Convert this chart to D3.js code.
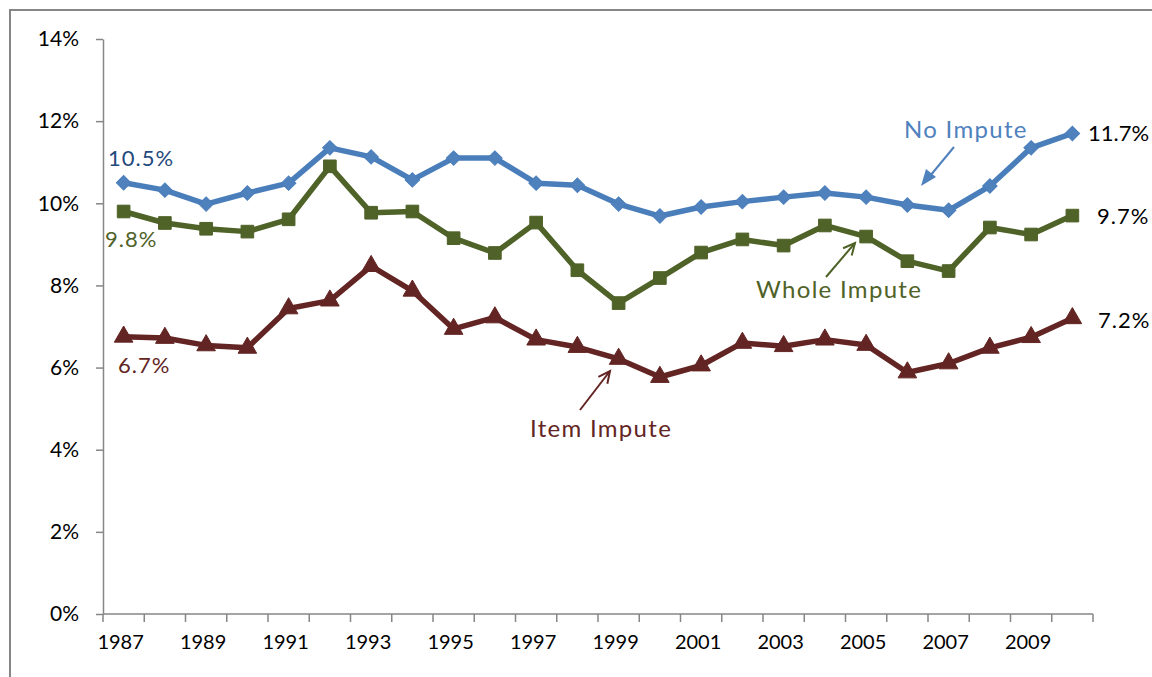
<!DOCTYPE html>
<html>
<head>
<meta charset="utf-8">
<script src="https://cdn.jsdelivr.net/npm/d3@7"></script>
<style>
  body { margin: 0; background: #fff; }
  svg { display: block; font-family: Lato, "Open Sans", sans-serif; }
</style>
</head>
<body>
<svg width="1152" height="677"></svg>
<script>
'use strict'

const years = d3.range(1987, 2011);
const yTicks = [0, 2, 4, 6, 8, 10, 12, 14];

// values (percent)
const noImpute = [10.5, 10.32, 9.98, 10.25, 10.49, 11.35, 11.13, 10.57, 11.1, 11.1, 10.49, 10.44,
  9.98, 9.69, 9.91, 10.04, 10.15, 10.25, 10.15, 9.96, 9.83, 10.42, 11.35, 11.7];
const wholeImpute = [9.8, 9.52, 9.38, 9.31, 9.61, 10.9, 9.77, 9.8, 9.15, 8.79, 9.53, 8.37,
  7.57, 8.18, 8.8, 9.12, 8.97, 9.46, 9.19, 8.59, 8.35, 9.41, 9.24, 9.7];
const itemImpute = [6.75, 6.72, 6.54, 6.48, 7.44, 7.63, 8.47, 7.87, 6.94, 7.22, 6.68, 6.5,
  6.21, 5.77, 6.05, 6.6, 6.52, 6.68, 6.55, 5.88, 6.1, 6.48, 6.74, 7.2];

const svg = d3.select('svg');
const plotLeft = 103, plotRight = 1093, plotTop = 39, plotBottom = 614;

// chart area border
svg.append('rect')
  .attr('x', 10).attr('y', 10)
  .attr('width', 1200).attr('height', 800)
  .attr('fill', 'none')
  .attr('stroke', '#868686')
  .attr('stroke-width', 2);

const x = d3.scaleBand().domain(years).range([plotLeft, plotRight]);
const y = d3.scaleLinear().domain([0, 14]).range([plotBottom, plotTop]);

// y axis
const yAxis = svg.append('g')
  .attr('transform', `translate(${plotLeft},0)`)
  .call(d3.axisLeft(y).tickValues(yTicks).tickFormat(d => d + '%').tickSize(7).tickSizeOuter(0).tickPadding(17));
yAxis.select('.domain').attr('stroke', '#868686').attr('stroke-width', 1.5);
yAxis.selectAll('line').attr('stroke', '#868686').attr('stroke-width', 1.5);
yAxis.selectAll('text').attr('font-size', 21).attr('fill', '#000').attr('font-family', 'Lato');

// x axis: category axis, ticks at boundaries, every other label
const xg = svg.append('g').attr('transform', `translate(0,${plotBottom})`);
xg.append('line')
  .attr('x1', plotLeft).attr('x2', x(years[years.length - 1]) + x.bandwidth())
  .attr('stroke', '#868686').attr('stroke-width', 1.5);
const bounds = years.map(d => x(d)).concat([x(years[years.length - 1]) + x.bandwidth()]);
xg.selectAll('line.tick')
  .data(bounds)
  .join('line')
  .attr('class', 'tick')
  .attr('x1', d => d).attr('x2', d => d)
  .attr('y1', 0).attr('y2', 8)
  .attr('stroke', '#868686').attr('stroke-width', 1.5);
xg.selectAll('text')
  .data(years.filter((d, i) => i % 2 === 0))
  .join('text')
  .attr('x', d => x(d) + x.bandwidth() / 2 - 3)
  .attr('y', 35)
  .attr('text-anchor', 'middle')
  .attr('font-size', 20)
  .attr('fill', '#000')
  .text(d => d);

const cx = d => x(d) + x.bandwidth() / 2;

const series = [
  { values: itemImpute, line: '#632523', fill: '#632523', shape: d3.symbolTriangle, size: 150, rot: 0 },
  { values: wholeImpute, line: '#4F6228', fill: '#4F6228', shape: d3.symbolSquare, size: 160, rot: 0 },
  { values: noImpute, line: '#4A7EBB', fill: '#4F81BD', shape: d3.symbolSquare, size: 105, rot: 45 }
];

const line = d3.line().x((d, i) => cx(years[i])).y(d => y(d));

series.forEach(s => {
  svg.append('path')
    .datum(s.values)
    .attr('d', line)
    .attr('fill', 'none')
    .attr('stroke', s.line)
    .attr('stroke-width', 5.5)
    .attr('stroke-linejoin', 'round');
  svg.append('g')
    .selectAll('path')
    .data(s.values)
    .join('path')
    .attr('transform', (d, i) => `translate(${cx(years[i])},${y(d)}) rotate(${s.rot})`)
    .attr('d', d3.symbol().type(s.shape).size(s.size))
    .attr('fill', s.fill)
    .attr('stroke', s.line)
    .attr('stroke-width', 1);
});

// data labels
const labels = [
  { t: '10.5%', x: 108, y: 166, c: '#1F497D', ls: 1 },
  { t: '9.8%', x: 105, y: 247, c: '#4F6228', ls: 1 },
  { t: '6.7%', x: 118, y: 373, c: '#632523', ls: 1 },
  { t: '11.7%', x: 1088, y: 141, c: '#000', ls: 0 },
  { t: '9.7%', x: 1097, y: 224, c: '#000', ls: 1 },
  { t: '7.2%', x: 1098, y: 328, c: '#000', ls: 1 }
];
svg.append('g').selectAll('text')
  .data(labels)
  .join('text')
  .attr('x', d => d.x).attr('y', d => d.y)
  .attr('font-size', 22)
  .attr('letter-spacing', d => d.ls)
  .attr('fill', d => d.c)
  .text(d => d.t);

// series annotations with arrows
const notes = [
  { t: 'No Impute', x: 904, y: 138, c: '#4F81BD' },
  { t: 'Whole Impute', x: 756, y: 298, c: '#4F6228' },
  { t: 'Item Impute', x: 530, y: 437, c: '#632523' }
];
svg.append('g').selectAll('text')
  .data(notes)
  .join('text')
  .attr('x', d => d.x).attr('y', d => d.y)
  .attr('font-size', 24)
  .attr('letter-spacing', 1.3)
  .attr('fill', d => d.c)
  .text(d => d.t);

// No Impute: filled arrow head
svg.append('line')
  .attr('x1', 954).attr('y1', 147).attr('x2', 930).attr('y2', 176)
  .attr('stroke', '#4F81BD').attr('stroke-width', 2);
svg.append('path')
  .attr('d', 'M921,186 L926,169 L936,177 Z')
  .attr('fill', '#4F81BD');

// open arrow heads
function openArrow(x1, y1, x2, y2, c) {
  svg.append('line')
    .attr('x1', x1).attr('y1', y1).attr('x2', x2).attr('y2', y2)
    .attr('stroke', c).attr('stroke-width', 2);
  const a = Math.atan2(y2 - y1, x2 - x1);
  const L = 13, w = 0.45;
  svg.append('path')
    .attr('d', `M${x2 - L * Math.cos(a - w)},${y2 - L * Math.sin(a - w)} L${x2},${y2} L${x2 - L * Math.cos(a + w)},${y2 - L * Math.sin(a + w)}`)
    .attr('fill', 'none')
    .attr('stroke', c).attr('stroke-width', 2);
}
openArrow(826, 277, 855, 243, '#4F6228');
openArrow(580, 410, 610, 371, '#632523');
</script>
</body>
</html>
